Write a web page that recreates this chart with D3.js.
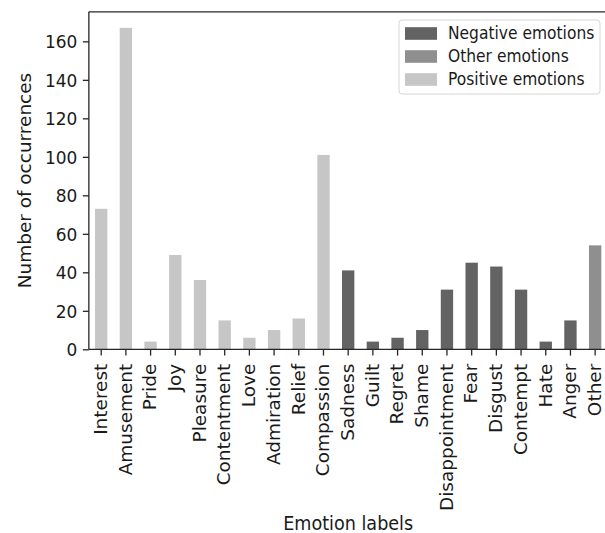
<!DOCTYPE html>
<html><head><meta charset="utf-8">
<script src="https://cdn.jsdelivr.net/npm/d3@7"></script>
<style>
html,body{margin:0;padding:0;background:#fff;}
svg{display:block;}
text{font-family:"DejaVu Sans",sans-serif;fill:#1a1a1a;}
</style></head>
<body>
<svg id="c" width="605" height="533"></svg>
<script>
const categories = ["Interest","Amusement","Pride","Joy","Pleasure","Contentment","Love","Admiration","Relief","Compassion","Sadness","Guilt","Regret","Shame","Disappointment","Fear","Disgust","Contempt","Hate","Anger","Other"];
const values = [73,167,4,49,36,15,6,10,16,101,41,4,6,10,31,45,43,31,4,15,54];
const groups = ["Positive","Positive","Positive","Positive","Positive","Positive","Positive","Positive","Positive","Positive","Negative","Negative","Negative","Negative","Negative","Negative","Negative","Negative","Negative","Negative","Other"];
const legendKeys = ["Negative","Other","Positive"];
const legendLabels = ["Negative emotions","Other emotions","Positive emotions"];
const yTicks = [0,20,40,60,80,100,120,140,160];
const colors = {Negative:"#636363", Other:"#8f8f8f", Positive:"#c6c6c6"};

const SY = 1.086; // vertical stretch of the picture
const L = 88.85, R = 607.5, T = 11.8, B = 349.3;
const svg = d3.select("#c");

const x = d3.scaleBand().domain(categories).range([L, R]).paddingInner(0.5).paddingOuter(0.25);
const y = d3.scaleLinear().domain([0, d3.max(values) * 1.05]).range([B, T]);

const data = categories.map((c, i) => ({c, v: values[i], g: groups[i]}));

svg.append("g").selectAll("rect").data(data).join("rect")
  .attr("x", d => x(d.c)).attr("width", x.bandwidth())
  .attr("y", d => y(d.v)).attr("height", d => y(0) - y(d.v))
  .attr("fill", d => colors[d.g]);

const SW = 1.3, SC = "#262626";
// spines
svg.append("line").attr("x1", L).attr("x2", L).attr("y1", T).attr("y2", B).attr("stroke", SC).attr("stroke-width", SW);
svg.append("line").attr("x1", L).attr("x2", R).attr("y1", T).attr("y2", T).attr("stroke", SC).attr("stroke-width", SW);
svg.append("line").attr("x1", R).attr("x2", R).attr("y1", T).attr("y2", B).attr("stroke", SC).attr("stroke-width", SW);

// y axis
const ya = svg.append("g").attr("transform", `translate(${L},0)`)
  .call(d3.axisLeft(y).tickValues(yTicks).tickSize(6).tickPadding(5.5).tickFormat(d3.format("d")));
ya.select(".domain").remove();
ya.selectAll(".tick line").attr("stroke", SC).attr("stroke-width", SW);
ya.selectAll(".tick text").attr("font-size", "17px").attr("font-family", "DejaVu Sans").attr("fill", "#1a1a1a")
  .attr("dy", null).attr("dominant-baseline", "central").attr("transform", `scale(1,${SY})`);

// x axis
const xa = svg.append("g").attr("transform", `translate(0,${B})`)
  .call(d3.axisBottom(x).tickSize(6.3).tickPadding(0));
xa.select(".domain").attr("stroke", SC).attr("stroke-width", SW).attr("d", `M${L},0H${R}`);
xa.selectAll(".tick line").attr("stroke", SC).attr("stroke-width", SW);
xa.selectAll(".tick text").attr("font-size", "17px").attr("font-family", "DejaVu Sans").attr("fill", "#1a1a1a")
  .attr("y", null).attr("dy", null).attr("x", -13.3)
  .attr("text-anchor", "end").attr("dominant-baseline", "central")
  .attr("transform", `scale(1,${SY}) rotate(-90)`);

// axis labels
svg.append("text").attr("transform", `translate(${(L + R) / 2},529.5) scale(1,${SY})`)
  .attr("text-anchor", "middle").attr("font-size", "17.6px").text("Emotion labels");
svg.append("text").attr("transform", `translate(25,${(T + B) / 2}) scale(1,${SY}) rotate(-90)`)
  .attr("text-anchor", "middle").attr("dominant-baseline", "central").attr("font-size", "17px").text("Number of occurrences");

// legend
const lg = svg.append("g");
lg.append("rect").attr("x", 399).attr("y", 20).attr("width", 201).attr("height", 74).attr("rx", 3)
  .attr("fill", "#fff").attr("fill-opacity", 0.8).attr("stroke", "#d6d6d6").attr("stroke-width", 1);
const ly = d3.scaleBand().domain(legendKeys).range([22, 91]);
const items = lg.selectAll("g.it").data(legendKeys).join("g").attr("class", "it")
  .attr("transform", d => `translate(0,${ly(d) + ly.bandwidth() / 2})`);
items.append("rect").attr("x", 405).attr("y", -6.3).attr("width", 32).attr("height", 12.6).attr("fill", d => colors[d]);
items.append("text").attr("transform", `translate(448,0) scale(1,${SY})`).attr("dominant-baseline", "central")
  .attr("font-size", "15.5px").text((d, i) => legendLabels[i]);
</script>
</body></html>
